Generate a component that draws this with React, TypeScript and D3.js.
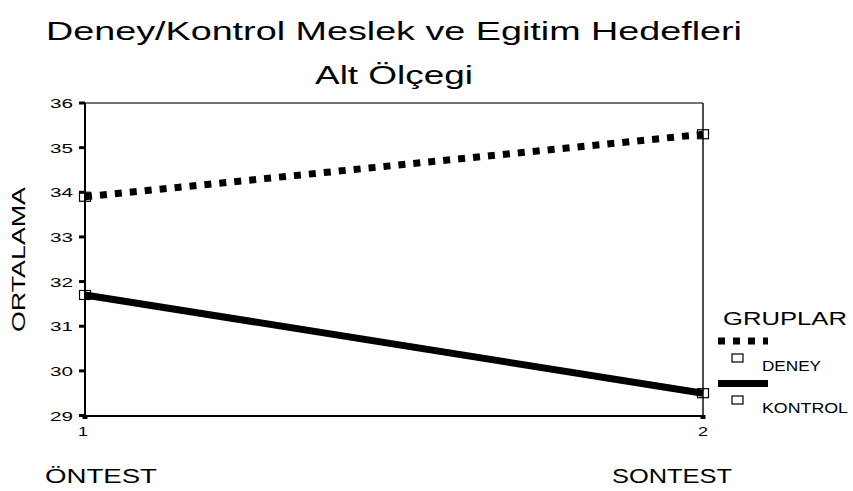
import React, { useEffect, useRef } from 'react';
import * as d3 from 'd3';

const tests = [1, 2];
const testNames = ['ÖNTEST', 'SONTEST'];
const deney = [33.9, 35.3];
const kontrol = [31.7, 29.5];
const yTicks = [29, 30, 31, 32, 33, 34, 35, 36];
const groups = ['DENEY', 'KONTROL'];

const FONT = 'Arial, "Liberation Sans", sans-serif';

const App: React.FC = () => {
  const ref = useRef<SVGSVGElement>(null);

  useEffect(() => {
    if (!ref.current) return;
    const svg = d3.select(ref.current);
    svg.selectAll('*').remove();

    // scales
    const x = d3.scaleLinear().domain([1, 2]).range([85, 703]);
    const y = d3.scaleLinear().domain([29, 36]).range([415.5, 103]);

    // helper for the stretched text of the original
    const label = (
      txt: string, tx: number, ty: number, size: number, len: number,
      anchor = 'start', transform?: string
    ) => {
      const t = svg.append('text')
        .attr('x', tx).attr('y', ty)
        .attr('font-family', FONT)
        .attr('font-size', size)
        .attr('fill', '#000')
        .attr('text-anchor', anchor)
        .attr('textLength', len)
        .attr('lengthAdjust', 'spacingAndGlyphs')
        .text(txt);
      if (transform) t.attr('transform', transform);
      return t;
    };

    // titles
    label('Deney/Kontrol Meslek ve Egitim Hedefleri', 394, 40, 25, 696, 'middle');
    label('Alt Ölçegi', 394, 84, 25, 158, 'middle');

    // frame: top + right thin
    svg.append('line').attr('x1', x(1)).attr('x2', x(2)).attr('y1', y(36)).attr('y2', y(36))
      .attr('stroke', '#444').attr('stroke-width', 1.5);
    svg.append('line').attr('x1', x(2)).attr('x2', x(2)).attr('y1', y(36)).attr('y2', 416)
      .attr('stroke', '#111').attr('stroke-width', 1.5);

    // y axis
    svg.append('line').attr('x1', x(1)).attr('x2', x(1)).attr('y1', y(36)).attr('y2', 417)
      .attr('stroke', '#000').attr('stroke-width', 2);
    yTicks.forEach(v => {
      svg.append('rect').attr('x', 79).attr('y', y(v) - 1.5).attr('width', 6).attr('height', 3).attr('fill', '#000');
      label(String(v), 73, y(v) + 5, 13, 23, 'end');
    });

    // x axis
    svg.append('line').attr('x1', x(1)).attr('x2', x(2)).attr('y1', 416).attr('y2', 416)
      .attr('stroke', '#000').attr('stroke-width', 2);
    tests.forEach((t, i) => {
      svg.append('rect').attr('x', x(t) - 2.5).attr('y', 415).attr('width', 5).attr('height', 4).attr('fill', '#000');
      label(String(t), x(t) - (i === 0 ? 2 : 0), 435.5, 13, 10, 'middle');
    });
    label(testNames[0], 45, 483, 19.5, 112);
    label(testNames[1], 612, 483, 19.5, 120);

    // y title
    label('ORTALAMA', 25, 259.5, 18.5, 145, 'middle', 'rotate(-90 25 259.5)');

    const line = d3.line<number>()
      .x((_, i) => x(tests[i]))
      .y(d => y(d));

    svg.append('path').datum(deney)
      .attr('fill', 'none').attr('stroke', '#000').attr('stroke-width', 7)
      .attr('stroke-dasharray', '7 8')
      .attr('d', line);

    svg.append('path').datum(kontrol)
      .attr('fill', 'none').attr('stroke', '#000').attr('stroke-width', 7)
      .attr('d', line);

    // markers
    [deney, kontrol].forEach(s => {
      s.forEach((v, i) => {
        svg.append('rect')
          .attr('x', x(tests[i]) - 5.5).attr('y', y(v) - 4.5)
          .attr('width', 11).attr('height', 9)
          .attr('fill', 'none').attr('stroke', '#000').attr('stroke-width', 1.2);
      });
    });

    // legend
    label('GRUPLAR', 723, 325, 18.5, 124);
    svg.append('line').attr('x1', 718).attr('x2', 768).attr('y1', 341).attr('y2', 341)
      .attr('stroke', '#000').attr('stroke-width', 7).attr('stroke-dasharray', '7 8');
    svg.append('line').attr('x1', 718).attr('x2', 768).attr('y1', 383.5).attr('y2', 383.5)
      .attr('stroke', '#000').attr('stroke-width', 7);
    groups.forEach((g, i) => {
      const cy = i === 0 ? 358 : 400;
      svg.append('rect').attr('x', 732).attr('y', cy - 4).attr('width', 11).attr('height', 8)
        .attr('fill', 'none').attr('stroke', '#000').attr('stroke-width', 1.2);
      label(g, 762, cy + 12.8, 14, i === 0 ? 59 : 86);
    });
  }, []);

  return (
    <svg
      ref={ref}
      width={853}
      height={491}
      style={{ position: 'fixed', left: 0, top: 0, background: '#fff' }}
    />
  );
};

export default App;
